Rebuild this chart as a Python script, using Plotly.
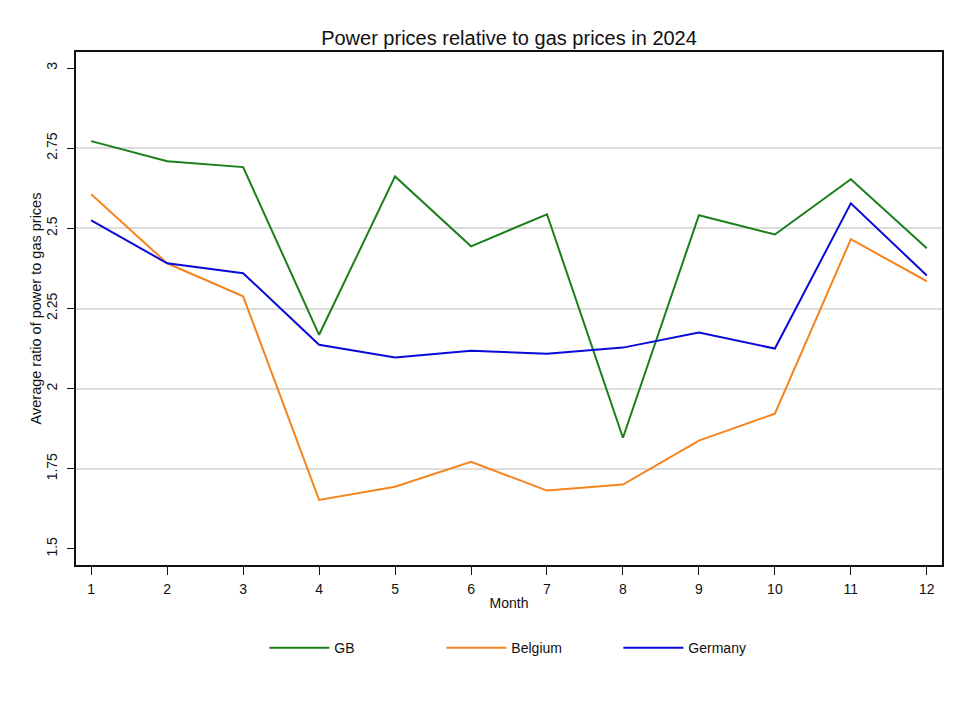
import plotly.graph_objects as go

months = list(range(1, 13))
gb = [2.772, 2.709, 2.691, 2.168, 2.662, 2.444, 2.544, 1.847, 2.541, 2.481, 2.653, 2.438]
belgium = [2.606, 2.391, 2.288, 1.653, 1.694, 1.772, 1.682, 1.701, 1.838, 1.922, 2.466, 2.335]
germany = [2.525, 2.391, 2.360, 2.137, 2.097, 2.118, 2.109, 2.128, 2.175, 2.125, 2.578, 2.353]
y_ticks = [1.5, 1.75, 2, 2.25, 2.5, 2.75, 3]
y_tick_text = ["1.5", "1.75", "2", "2.25", "2.5", "2.75", "3"]
grid_ticks = [1.75, 2, 2.25, 2.5, 2.75]

FONT = "Liberation Sans, Arial, sans-serif"
yr = [1.45, 3.05]

fig = go.Figure()
for name, vals, col in [("GB", gb, "#1a7f1a"), ("Belgium", belgium, "#f5841f"), ("Germany", germany, "#0a0ad8")]:
    fig.add_trace(go.Scatter(x=months, y=vals, mode="lines", name=name,
                             line=dict(color=col, width=2)))

fig.update_layout(
    width=968, height=704,
    margin=dict(l=68, r=34, t=44, b=147),
    paper_bgcolor="white", plot_bgcolor="white",
    font=dict(family=FONT, size=14, color="#111"),
    title=dict(text="Power prices relative to gas prices in 2024", x=0.5, xref="paper", xanchor="center",
               y=1 - 30 / 704, yanchor="middle", font=dict(size=20, color="#111")),
    xaxis=dict(range=[0.8, 12.2], tickvals=months, ticks="outside", ticklen=8, tickwidth=1.3,
               tickcolor="#111", showgrid=False, zeroline=False, showline=True, linecolor="#111",
               linewidth=1.5, mirror=True, ticklabelstandoff=2,
               title=dict(text="Month", standoff=3, font=dict(size=14))),
    yaxis=dict(range=yr, tickvals=grid_ticks, showticklabels=False, ticks="", showgrid=True,
               gridcolor="#dcdcdc", gridwidth=2, zeroline=False, showline=True, linecolor="#111",
               linewidth=1.5, mirror=True,
               title=dict(text="Average ratio of power to gas prices", standoff=29, font=dict(size=14.5))),
    yaxis2=dict(range=yr, overlaying="y", side="left", tickvals=y_ticks, ticktext=y_tick_text,
                tickangle=-90, ticks="outside", ticklen=8, tickwidth=1.3, tickcolor="#111",
                ticklabelstandoff=4,
                showgrid=False, zeroline=False, showline=False),
    legend=dict(orientation="h", x=0.2175, xanchor="left", y=-0.162, yanchor="middle",
                font=dict(size=14), itemwidth=60, entrywidth=102, tracegroupgap=0),
    showlegend=True,
)
# invisible helper trace so the labelled overlay y axis is drawn
fig.add_trace(go.Scatter(x=[months[0]], y=[gb[0]], yaxis="y2", mode="markers",
                         marker=dict(opacity=0), showlegend=False, hoverinfo="skip"))

fig.write_html("out.html")
